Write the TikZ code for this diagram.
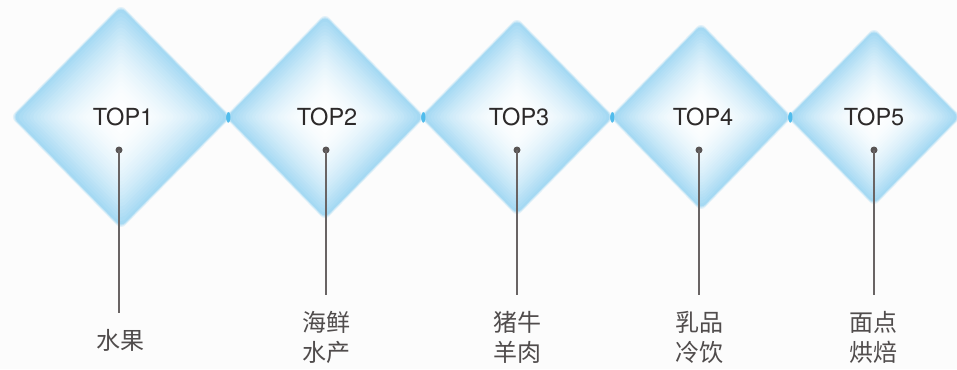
\documentclass[tikz,border=0pt]{standalone}
\usepackage{fontspec}
\setmainfont{TeX Gyre Heros}
\newfontfamily\cjk{Noto Sans CJK SC}
\usetikzlibrary{fadings,calc}
\definecolor{edgeblue}{RGB}{165,217,243}
\definecolor{tipblue}{RGB}{80,188,236}
\definecolor{bgc}{RGB}{252,252,252}
\definecolor{txt}{RGB}{45,42,42}
\definecolor{cjktxt}{RGB}{80,76,76}
\definecolor{stem}{RGB}{105,100,100}
\tikzset{
  toplabel/.style={font=\fontsize{23.5}{23.5}\selectfont, text=txt, inner sep=0pt},
  catlabel/.style={font=\cjk\fontsize{24}{30}\selectfont, text=cjktxt, align=center, inner sep=0pt},
  dotnode/.style={circle, fill=stem!85!black, minimum size=7pt, inner sep=0pt},
  stemline/.style={draw=stem, line width=1.5pt},
}
\begin{document}
\begin{tikzpicture}[x=1pt,y=-1pt]
\fill[bgc] (0,0) rectangle (957,369);
\useasboundingbox (0,0) rectangle (957,369);
% gradient diamonds
\foreach \cx/\hw/\hh in {121/108/110, 325/98/101, 517/95/97, 701/89/92, 874/85/87}{
  % soft outer rim
  \foreach \d/\q in {2.5/30, 1.2/65}{
    \fill[edgeblue!\q!bgc, rounded corners=6pt]
      ({\cx-\hw-\d},117) -- ({\cx},{117-\hh-\d}) -- ({\cx+\hw+\d},117) -- ({\cx},{117+\hh+\d}) -- cycle;
  }
  \foreach \k in {0,...,29}{
    \pgfmathsetmacro\s{1-\k/30}
    \pgfmathsetmacro\p{100*\s*\s}
    \pgfmathsetmacro\r{6*\s}
    \fill[edgeblue!\p!white, rounded corners=\r pt]
      ({\cx-\s*\hw},117) -- ({\cx},{117-\s*\hh}) -- ({\cx+\s*\hw},117) -- ({\cx},{117+\s*\hh}) -- cycle;
  }
}
\foreach \x in {228,423,612,790}{
  \fill[tipblue, path fading=circle with fuzzy edge 20 percent] (\x,117) ellipse [x radius=2.5, y radius=6];
}
% titles
\node[toplabel] (t1) at (123,117) {TOP1};
\node[toplabel] (t2) at (327,117) {TOP2};
\node[toplabel] (t3) at (519,117) {TOP3};
\node[toplabel] (t4) at (703,117) {TOP4};
\node[toplabel] (t5) at (874,117) {TOP5};
% dots
\node[dotnode] (p1) at (119,150) {};
\node[dotnode] (p2) at (326,150) {};
\node[dotnode] (p3) at (517,150) {};
\node[dotnode] (p4) at (699,150) {};
\node[dotnode] (p5) at (874,150) {};
% category labels
\node[catlabel] (l1) at (120,340) {水果};
\node[catlabel] (l2) at (326,337) {海鲜\\水产};
\node[catlabel] (l3) at (517,337) {猪牛\\羊肉};
\node[catlabel] (l4) at (699,337) {乳品\\冷饮};
\node[catlabel] (l5) at (873,337) {面点\\烘焙};
% stem ends
\foreach \i in {1,...,5}{
  \coordinate (e\i) at ([yshift=16pt]l\i.north);
}
% stems
\foreach \i in {1,...,5}{
  \draw[stemline] (p\i.center) -- (p\i.center |- e\i);
}
\end{tikzpicture}
\end{document}
